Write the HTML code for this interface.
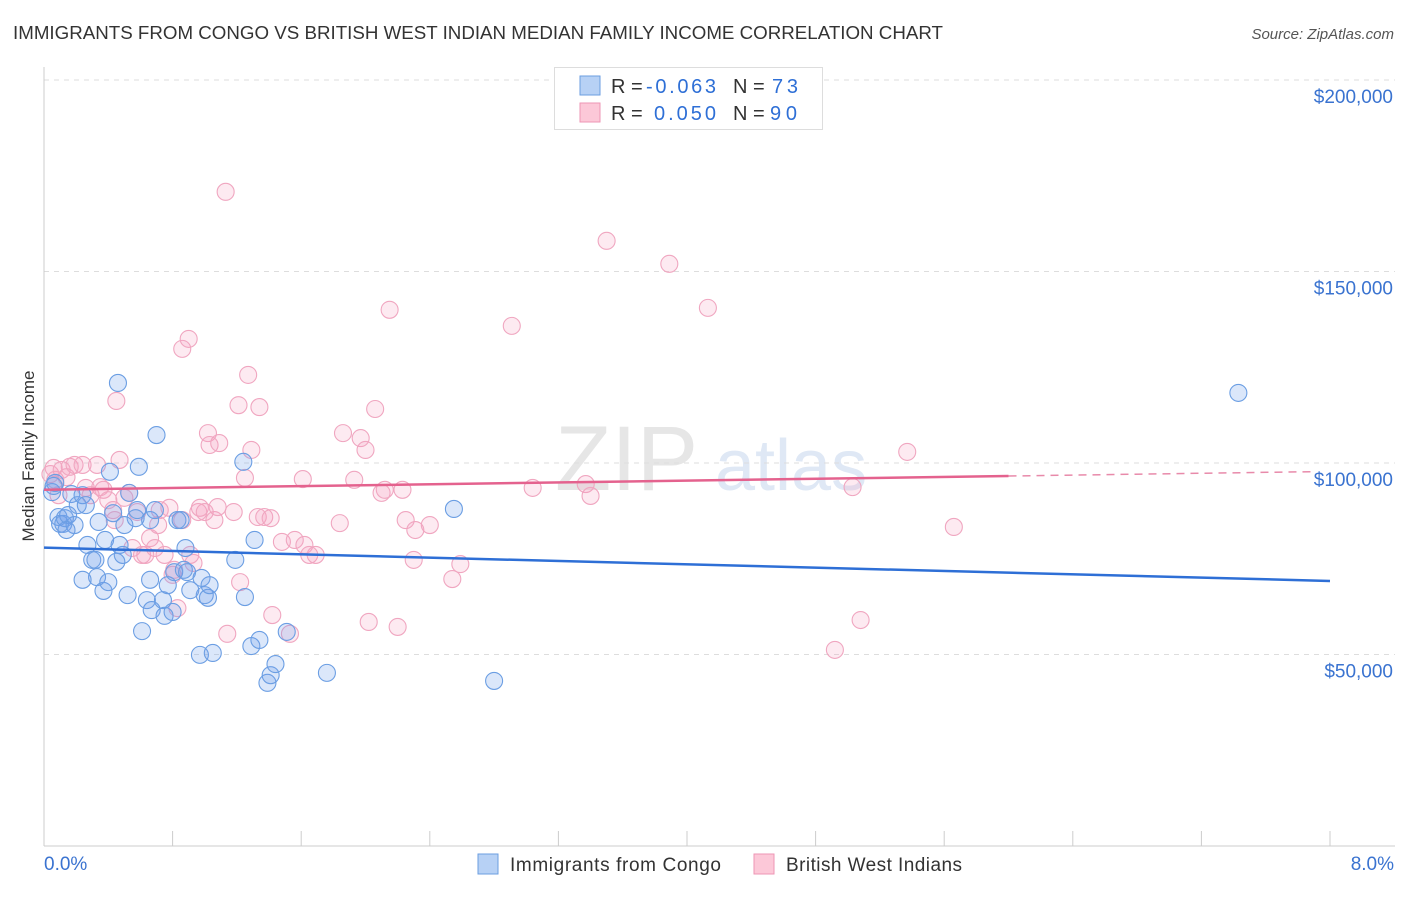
<!DOCTYPE html>
<html><head><meta charset="utf-8"><style>
body{margin:0;background:#fff;font-family:"Liberation Sans",sans-serif;}
svg text{font-family:"Liberation Sans",sans-serif;}
</style></head><body>
<svg id="chart" width="1406" height="892" xmlns="http://www.w3.org/2000/svg">
<text x="13" y="39" font-size="18" fill="#333" textLength="930" lengthAdjust="spacingAndGlyphs">IMMIGRANTS FROM CONGO VS BRITISH WEST INDIAN MEDIAN FAMILY INCOME CORRELATION CHART</text>
<text x="1394" y="39" font-size="15" fill="#555" text-anchor="end" font-style="italic">Source: ZipAtlas.com</text>
<text x="555" y="490" font-size="92" fill="#e6e6e6" font-family="Liberation Serif">ZIP</text>
<text x="715" y="490" font-size="72" fill="#dfe8f5">atlas</text>
<g id="grid"></g>
<g id="axes"></g>
<g id="pts"></g>
<g id="lines"></g>
<text transform="translate(34,456) rotate(-90)" font-size="17" fill="#333" text-anchor="middle">Median Family Income</text>
<g>
<rect x="554.5" y="67.5" width="268" height="62" fill="#fff" stroke="#ddd"/>
<rect x="580" y="76" width="20" height="19" fill="#b7d1f5" stroke="#6b9ee0"/>
<rect x="580" y="103" width="20" height="19" fill="#fcc8d8" stroke="#ee96b4"/>
<text x="611" y="93" font-size="20" fill="#333">R = </text><text x="646" y="93" font-size="20" fill="#2e6fd6" textLength="70">-0.063</text>
<text x="733" y="93" font-size="20" fill="#333">N = </text><text x="772" y="93" font-size="20" fill="#2e6fd6" textLength="26">73</text>
<text x="611" y="120" font-size="20" fill="#333">R = </text><text x="654" y="120" font-size="20" fill="#2e6fd6" textLength="62">0.050</text>
<text x="733" y="120" font-size="20" fill="#333">N = </text><text x="770" y="120" font-size="20" fill="#2e6fd6" textLength="27">90</text>
</g>
<g>
<rect x="478" y="854" width="20" height="20" fill="#b7d1f5" stroke="#6b9ee0"/>
<text x="510" y="871" font-size="19" fill="#333" textLength="211">Immigrants from Congo</text>
<rect x="754" y="854" width="20" height="20" fill="#fcc8d8" stroke="#ee96b4"/>
<text x="786" y="871" font-size="19" fill="#333" textLength="176">British West Indians</text>
</g>
</svg>
<script>
const yTicks=[50000,100000,150000,200000];
const yTickLabels=["$50,000","$100,000","$150,000","$200,000"];
const xTickLabels=["0.0%","8.0%"];
const blueX=[0.05,0.07,0.09,0.10,0.12,0.13,0.15,0.17,0.19,0.21,0.24,0.26,0.27,0.30,0.32,0.33,0.34,0.37,0.38,0.40,0.41,0.43,0.45,0.47,0.49,0.46,0.50,0.52,0.53,0.57,0.58,0.59,0.61,0.64,0.66,0.67,0.69,0.70,0.74,0.75,0.77,0.80,0.81,0.83,0.85,0.87,0.88,0.89,0.91,0.97,0.98,1.00,1.02,1.03,1.05,1.19,1.24,1.25,1.29,1.31,1.34,1.39,1.41,1.44,1.51,1.76,2.55,2.80,7.43,0.06,0.14,0.24,0.66];
const blueY=[92.4,94.8,85.9,84.1,84.1,85.6,86.4,91.9,83.8,89.0,91.6,89.0,78.6,74.7,74.7,70.2,84.6,66.6,79.9,68.9,97.7,86.9,74.2,78.6,76.0,120.9,83.8,65.5,92.2,85.6,87.7,99.0,56.1,64.2,85.1,61.6,87.7,107.3,64.2,60.1,68.1,61.1,71.5,85.1,85.1,72.1,77.8,71.5,66.8,49.9,70.0,65.5,64.8,68.1,50.4,74.7,100.3,65.0,52.2,79.9,53.8,42.6,44.6,47.5,55.9,45.2,88.0,43.1,118.3,94.0,82.5,69.5,69.5];
const pinkX=[0.04,0.06,0.07,0.09,0.11,0.14,0.16,0.19,0.24,0.26,0.29,0.33,0.35,0.37,0.40,0.43,0.44,0.45,0.47,0.50,0.53,0.55,0.58,0.61,0.63,0.66,0.69,0.71,0.72,0.75,0.78,0.80,0.81,0.83,0.86,0.86,0.90,0.91,0.93,0.96,0.97,1.00,1.02,1.03,1.06,1.08,1.09,1.13,1.14,1.18,1.21,1.22,1.25,1.27,1.29,1.33,1.34,1.37,1.41,1.42,1.48,1.53,1.56,1.61,1.62,1.65,1.69,1.84,1.86,1.93,1.97,2.00,2.02,2.06,2.10,2.12,2.20,2.23,2.25,2.30,2.31,2.40,2.54,2.59,2.91,3.04,3.37,3.40,3.50,3.89,4.13,4.92,5.03,5.08,5.37,5.66,2.15];
const pinkY=[97.1,98.7,95.6,91.6,98.2,96.3,99.0,99.5,99.5,93.5,91.6,99.5,93.7,93.0,90.3,87.7,85.1,116.2,100.8,90.9,92.2,77.8,87.2,76.0,76.0,80.4,77.8,83.8,87.7,76.0,88.3,70.8,72.1,62.1,129.8,85.1,132.4,76.0,73.9,87.2,88.3,87.2,107.8,104.7,85.1,88.5,105.2,170.8,55.4,87.2,115.1,68.9,96.1,123.0,103.4,85.9,114.6,85.9,85.6,60.3,79.4,55.4,79.9,95.8,78.6,76.0,76.0,84.3,107.8,95.6,106.5,103.4,58.5,114.1,92.2,93.0,57.2,93.0,85.1,74.7,82.5,83.8,69.7,73.6,135.8,93.5,94.5,91.4,158.0,152.0,140.5,51.2,93.7,59.0,102.9,83.3,140.0];
const blueTrend=[0,77.9,8,69.2];
const pinkTrend=[0,93.0,6.0,96.6,7.9];
const NS="http://www.w3.org/2000/svg";
const xs=v=>44+v*160.75;
const ys=v=>463-(v-100000)*191.5/50000;
function mk(p,t,a){const e=document.createElementNS(NS,t);for(const k in a)e.setAttribute(k,a[k]);document.getElementById(p).appendChild(e);return e;}
yTicks.forEach((t,i)=>{
 const g=mk('grid','line',{x1:44,x2:1395,y1:ys(t),y2:ys(t),stroke:'#ddd','stroke-dasharray':'5,5'});
 
 
 const l=mk('grid','text',{x:1393,y:ys(t)+23,'font-size':19,fill:'#3a73d0','text-anchor':'end'});
 l.textContent=yTickLabels[i];
 
 
});
mk('axes','line',{x1:44,x2:44,y1:67,y2:846,stroke:'#ccc'});
const xa=mk('axes','line',{x1:44,x2:1395,y1:846,y2:846,stroke:'#ccc'});


for(let i=0;i<=10;i++){const t=mk('axes','line',{x1:xs(i*0.8),x2:xs(i*0.8),y1:831,y2:846,stroke:'#ccc'});
 
 }
[[0,'start',44],[8,'end',1394]].forEach((d,i)=>{const l=mk('axes','text',{x:d[2],y:870,'font-size':19,fill:'#3a73d0','text-anchor':d[1]});l.textContent=xTickLabels[i];
 
 });
function pts(X,Y,fill,stroke,name){X.forEach((x,i)=>{const c=mk('pts','circle',{cx:xs(x),cy:ys(Y[i]*1000),r:8.5,fill:fill,stroke:stroke,'stroke-width':1.1});
 
 });}
pts(pinkX,pinkY,'rgba(246,160,190,0.22)','#f0a6c0','point-british-west-indian');
pts(blueX,blueY,'rgba(110,160,235,0.25)','#6b9ee3','point-congo');
const bl=mk('lines','line',{x1:xs(blueTrend[0]),y1:ys(blueTrend[1]*1000),x2:xs(blueTrend[2]),y2:ys(blueTrend[3]*1000),stroke:'#2e6fd6','stroke-width':2.5});


const pl=mk('lines','line',{x1:xs(pinkTrend[0]),y1:ys(pinkTrend[1]*1000),x2:xs(pinkTrend[2]),y2:ys(pinkTrend[3]*1000),stroke:'#e4628e','stroke-width':2.5});


const slope=(pinkTrend[3]-pinkTrend[1])/(pinkTrend[2]-pinkTrend[0]);
const pd=mk('lines','line',{x1:xs(pinkTrend[2]),y1:ys(pinkTrend[3]*1000),x2:xs(pinkTrend[4]),y2:ys((pinkTrend[3]+slope*(pinkTrend[4]-pinkTrend[2]))*1000),stroke:'#e88aaa','stroke-width':1.5,'stroke-dasharray':'8,6'});


</script>
</body></html>
